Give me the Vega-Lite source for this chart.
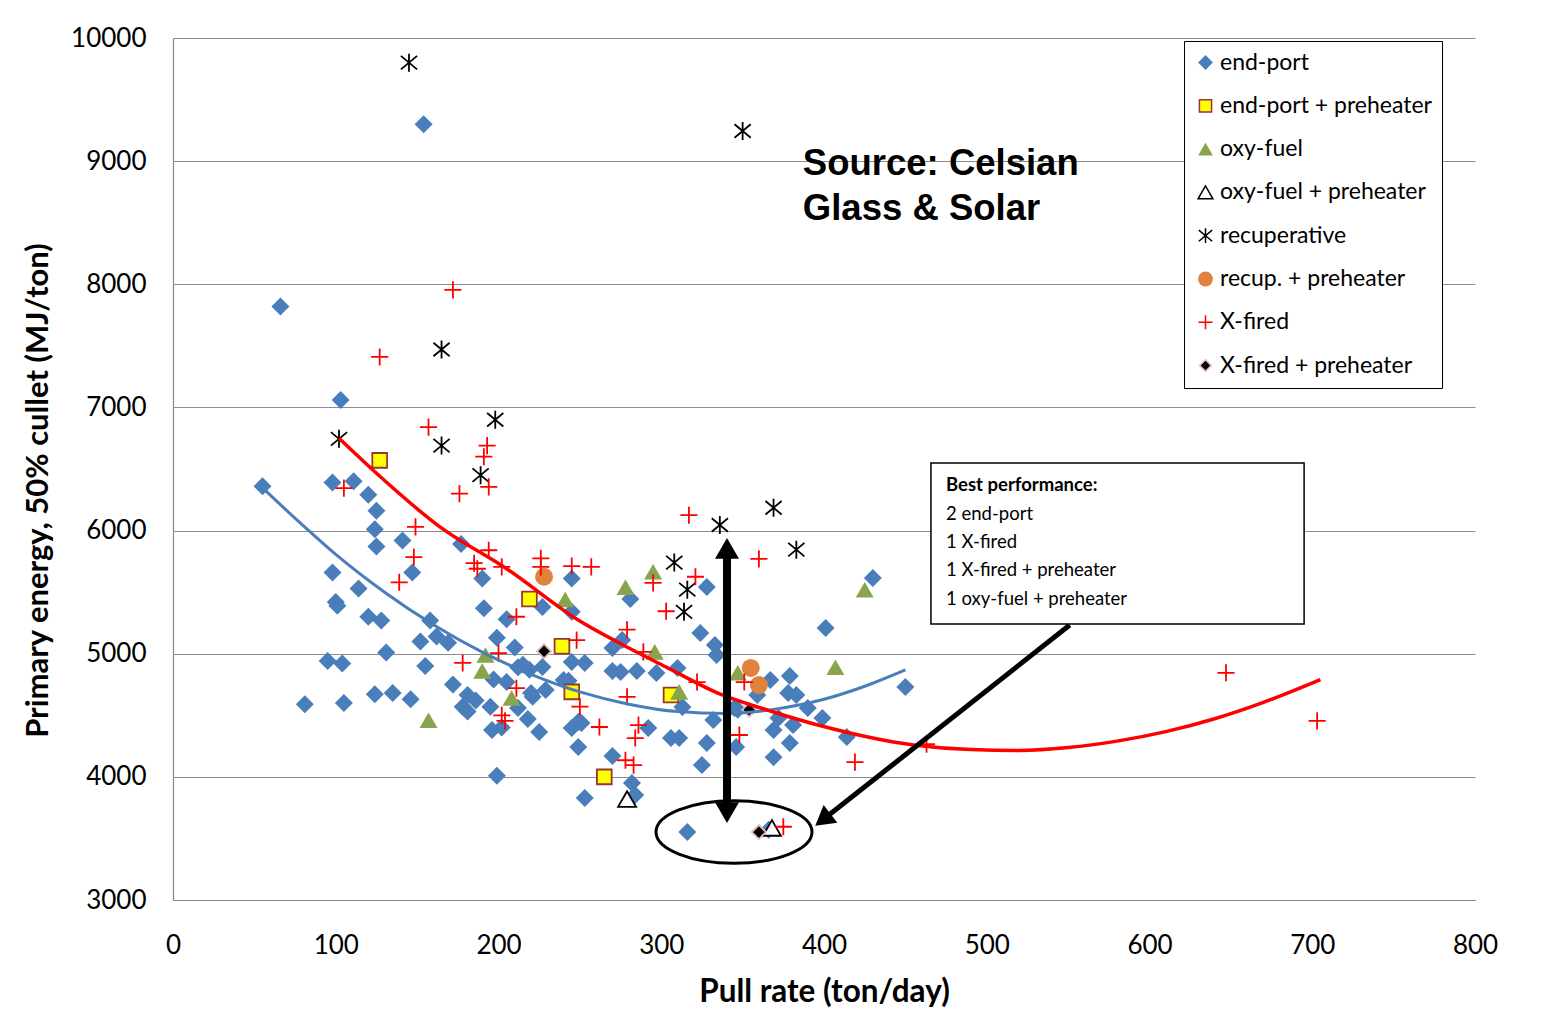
{
  "$schema": "https://vega.github.io/schema/vega-lite/v6.json",
  "autosize": {"type": "none"},
  "padding": {"left": 173, "top": 38, "right": 70, "bottom": 114},
  "width": 1302,
  "height": 862,
  "background": "white",
  "config": {
    "view": {"stroke": null},
    "font": "Lato",
    "axis": {"labelFont": "Lato", "titleFont": "Lato", "labelColor": "#000000", "titleColor": "#000000", "labelFlush": false, "labelOverlap": false}
  },
  "datasets": {
    "pts": [
      {"x":66,"y":7820,"s":"end-port"},{"x":154,"y":9300,"s":"end-port"},{"x":103,"y":7060,"s":"end-port"},{"x":55,"y":6360,"s":"end-port"},{"x":98,"y":6390,"s":"end-port"},{"x":111,"y":6400,"s":"end-port"},{"x":120,"y":6290,"s":"end-port"},{"x":125,"y":6160,"s":"end-port"},{"x":124,"y":6010,"s":"end-port"},{"x":125,"y":5870,"s":"end-port"},{"x":141,"y":5920,"s":"end-port"},{"x":98,"y":5660,"s":"end-port"},{"x":114,"y":5530,"s":"end-port"},{"x":100,"y":5420,"s":"end-port"},{"x":101,"y":5390,"s":"end-port"},{"x":147,"y":5660,"s":"end-port"},{"x":120,"y":5300,"s":"end-port"},{"x":128,"y":5270,"s":"end-port"},{"x":158,"y":5270,"s":"end-port"},{"x":152,"y":5100,"s":"end-port"},{"x":131,"y":5010,"s":"end-port"},{"x":95,"y":4940,"s":"end-port"},{"x":104,"y":4920,"s":"end-port"},{"x":155,"y":4900,"s":"end-port"},{"x":81,"y":4590,"s":"end-port"},{"x":105,"y":4600,"s":"end-port"},{"x":124,"y":4670,"s":"end-port"},{"x":135,"y":4680,"s":"end-port"},{"x":146,"y":4630,"s":"end-port"},{"x":162,"y":5140,"s":"end-port"},
      {"x":177,"y":5890,"s":"end-port"},{"x":190,"y":5610,"s":"end-port"},{"x":191,"y":5370,"s":"end-port"},{"x":205,"y":5280,"s":"end-port"},{"x":169,"y":5090,"s":"end-port"},{"x":199,"y":5130,"s":"end-port"},{"x":210,"y":5050,"s":"end-port"},{"x":172,"y":4750,"s":"end-port"},{"x":181,"y":4665,"s":"end-port"},{"x":178,"y":4570,"s":"end-port"},{"x":181,"y":4530,"s":"end-port"},{"x":195,"y":4570,"s":"end-port"},{"x":196,"y":4380,"s":"end-port"},{"x":202,"y":4400,"s":"end-port"},{"x":199,"y":4010,"s":"end-port"},{"x":197,"y":4790,"s":"end-port"},{"x":205,"y":4770,"s":"end-port"},{"x":212,"y":4890,"s":"end-port"},{"x":219,"y":4870,"s":"end-port"},{"x":221,"y":4650,"s":"end-port"},{"x":212,"y":4560,"s":"end-port"},{"x":218,"y":4470,"s":"end-port"},{"x":225,"y":4365,"s":"end-port"},{"x":215,"y":4910,"s":"end-port"},{"x":220,"y":4680,"s":"end-port"},{"x":229,"y":4705,"s":"end-port"},{"x":227,"y":4893,"s":"end-port"},{"x":227,"y":5380,"s":"end-port"},{"x":186,"y":4620,"s":"end-port"},
      {"x":245,"y":5610,"s":"end-port"},{"x":245,"y":5340,"s":"end-port"},{"x":240,"y":4787,"s":"end-port"},{"x":245,"y":4933,"s":"end-port"},{"x":253,"y":4925,"s":"end-port"},{"x":249,"y":4446,"s":"end-port"},{"x":245,"y":4397,"s":"end-port"},{"x":249,"y":4243,"s":"end-port"},{"x":270,"y":4170,"s":"end-port"},{"x":270,"y":4860,"s":"end-port"},{"x":275,"y":4852,"s":"end-port"},{"x":285,"y":4860,"s":"end-port"},{"x":297,"y":4843,"s":"end-port"},{"x":270,"y":5046,"s":"end-port"},{"x":276,"y":5111,"s":"end-port"},{"x":281,"y":5444,"s":"end-port"},{"x":292,"y":4397,"s":"end-port"},{"x":282,"y":3950,"s":"end-port"},{"x":284,"y":3853,"s":"end-port"},{"x":253,"y":3828,"s":"end-port"},{"x":243,"y":4780,"s":"end-port"},{"x":251,"y":4437,"s":"end-port"},
      {"x":310,"y":4884,"s":"end-port"},{"x":306,"y":4315,"s":"end-port"},{"x":311,"y":4315,"s":"end-port"},{"x":328,"y":4275,"s":"end-port"},{"x":325,"y":4096,"s":"end-port"},{"x":332,"y":4462,"s":"end-port"},{"x":313,"y":4567,"s":"end-port"},{"x":316,"y":3552,"s":"end-port"},{"x":324,"y":5168,"s":"end-port"},{"x":333,"y":5070,"s":"end-port"},{"x":334,"y":4990,"s":"end-port"},{"x":328,"y":5542,"s":"end-port"},{"x":346,"y":4243,"s":"end-port"},{"x":347,"y":4545,"s":"end-port"},{"x":359,"y":4665,"s":"end-port"},{"x":367,"y":4787,"s":"end-port"},{"x":369,"y":4380,"s":"end-port"},{"x":369,"y":4160,"s":"end-port"},{"x":379,"y":4820,"s":"end-port"},{"x":378,"y":4681,"s":"end-port"},{"x":383,"y":4665,"s":"end-port"},{"x":390,"y":4560,"s":"end-port"},{"x":399,"y":4478,"s":"end-port"},{"x":345,"y":4560,"s":"end-port"},{"x":372,"y":4478,"s":"end-port"},{"x":381,"y":4421,"s":"end-port"},{"x":414,"y":4324,"s":"end-port"},{"x":379,"y":4275,"s":"end-port"},{"x":401,"y":5209,"s":"end-port"},{"x":430,"y":5615,"s":"end-port"},{"x":450,"y":4730,"s":"end-port"},{"x":366,"y":3570,"s":"end-port"},
      {"x":127,"y":6570,"s":"end-port + preheater"},{"x":219,"y":5444,"s":"end-port + preheater"},{"x":239,"y":5060,"s":"end-port + preheater"},{"x":245,"y":4690,"s":"end-port + preheater"},{"x":265,"y":4000,"s":"end-port + preheater"},{"x":306,"y":4665,"s":"end-port + preheater"},
      {"x":157,"y":4460,"s":"oxy-fuel"},{"x":192,"y":4990,"s":"oxy-fuel"},{"x":190,"y":4860,"s":"oxy-fuel"},{"x":208,"y":4640,"s":"oxy-fuel"},{"x":241,"y":5440,"s":"oxy-fuel"},{"x":278,"y":5540,"s":"oxy-fuel"},{"x":295,"y":5665,"s":"oxy-fuel"},{"x":296,"y":5015,"s":"oxy-fuel"},{"x":311,"y":4690,"s":"oxy-fuel"},{"x":347,"y":4845,"s":"oxy-fuel"},{"x":407,"y":4890,"s":"oxy-fuel"},{"x":425,"y":5520,"s":"oxy-fuel"},
      {"x":279,"y":3820,"s":"oxy-fuel + preheater"},{"x":368,"y":3585,"s":"oxy-fuel + preheater"},
      {"x":145,"y":9800,"s":"recuperative"},{"x":350,"y":9245,"s":"recuperative"},{"x":165,"y":7470,"s":"recuperative"},{"x":198,"y":6900,"s":"recuperative"},{"x":102,"y":6745,"s":"recuperative"},{"x":165,"y":6690,"s":"recuperative"},{"x":189,"y":6450,"s":"recuperative"},{"x":336,"y":6045,"s":"recuperative"},{"x":369,"y":6185,"s":"recuperative"},{"x":383,"y":5845,"s":"recuperative"},{"x":308,"y":5740,"s":"recuperative"},{"x":316,"y":5520,"s":"recuperative"},{"x":314,"y":5340,"s":"recuperative"},
      {"x":228,"y":5625,"s":"recup. + preheater"},{"x":355,"y":4885,"s":"recup. + preheater"},{"x":360,"y":4745,"s":"recup. + preheater"},
      {"x":172,"y":7955,"s":"X-fired"},{"x":127,"y":7410,"s":"X-fired"},{"x":157,"y":6840,"s":"X-fired"},{"x":193,"y":6690,"s":"X-fired"},{"x":191,"y":6600,"s":"X-fired"},{"x":105,"y":6345,"s":"X-fired"},{"x":176,"y":6300,"s":"X-fired"},{"x":194,"y":6355,"s":"X-fired"},{"x":149,"y":6030,"s":"X-fired"},{"x":148,"y":5785,"s":"X-fired"},{"x":139,"y":5580,"s":"X-fired"},{"x":194,"y":5840,"s":"X-fired"},{"x":185,"y":5735,"s":"X-fired"},{"x":187,"y":5690,"s":"X-fired"},{"x":202,"y":5705,"s":"X-fired"},{"x":211,"y":5300,"s":"X-fired"},{"x":200,"y":5005,"s":"X-fired"},{"x":178,"y":4925,"s":"X-fired"},{"x":211,"y":4720,"s":"X-fired"},{"x":202,"y":4500,"s":"X-fired"},{"x":204,"y":4455,"s":"X-fired"},{"x":226,"y":5705,"s":"X-fired"},{"x":226,"y":5775,"s":"X-fired"},{"x":245,"y":5712,"s":"X-fired"},{"x":257,"y":5705,"s":"X-fired"},{"x":248,"y":5110,"s":"X-fired"},{"x":279,"y":5195,"s":"X-fired"},{"x":279,"y":4650,"s":"X-fired"},{"x":317,"y":6125,"s":"X-fired"},{"x":360,"y":5770,"s":"X-fired"},{"x":295,"y":5575,"s":"X-fired"},{"x":321,"y":5625,"s":"X-fired"},{"x":303,"y":5345,"s":"X-fired"},{"x":289,"y":5015,"s":"X-fired"},{"x":322,"y":4770,"s":"X-fired"},{"x":351,"y":4770,"s":"X-fired"},{"x":262,"y":4405,"s":"X-fired"},{"x":286,"y":4420,"s":"X-fired"},{"x":284,"y":4315,"s":"X-fired"},{"x":278,"y":4135,"s":"X-fired"},{"x":283,"y":4095,"s":"X-fired"},{"x":348,"y":4340,"s":"X-fired"},{"x":250,"y":4570,"s":"X-fired"},{"x":375,"y":3595,"s":"X-fired"},{"x":419,"y":4120,"s":"X-fired"},{"x":463,"y":4265,"s":"X-fired"},{"x":647,"y":4845,"s":"X-fired"},{"x":703,"y":4455,"s":"X-fired"},
      {"x":228,"y":5020,"s":"X-fired + preheater"},{"x":360,"y":3552,"s":"X-fired + preheater"},{"x":354,"y":4545,"s":"X-fired + preheater"}
    ],
    "blueFit": [
      {"x":55,"y":6346},{"x":80,"y":6040},{"x":100,"y":5806},{"x":130,"y":5499},{"x":160,"y":5235},{"x":190,"y":5013},{"x":220,"y":4833},{"x":250,"y":4690},{"x":280,"y":4590},{"x":310,"y":4530},{"x":340,"y":4515},{"x":370,"y":4550},{"x":400,"y":4630},{"x":430,"y":4760},{"x":450,"y":4868}
    ],
    "redFit": [
      {"x":102,"y":6750},{"x":123,"y":6490},{"x":164,"y":6030},{"x":205,"y":5690},{"x":250,"y":5265},{"x":281,"y":5040},{"x":303,"y":4892},{"x":336,"y":4673},{"x":367,"y":4535},{"x":398,"y":4415},{"x":455,"y":4259},{"x":490,"y":4222},{"x":520,"y":4215},{"x":550,"y":4238},{"x":580,"y":4290},{"x":610,"y":4367},{"x":640,"y":4472},{"x":670,"y":4605},{"x":705,"y":4790}
    ]
  },
  "encoding": {
    "x": {"field": "x", "type": "quantitative",
      "scale": {"domain": [0, 800], "nice": false, "zero": false},
      "axis": {"values": [0,100,200,300,400,500,600,700,800], "grid": false, "title": "Pull rate (ton/day)",
        "labelFontSize": 26, "labelPadding": 32, "ticks": false, "domainColor": "#868686", "domainWidth": 1.2,
        "titleFontSize": 31.5, "titleFontWeight": "bold", "titleBaseline": "middle", "titleY": 92}},
    "y": {"field": "y", "type": "quantitative",
      "scale": {"domain": [3000, 10000], "nice": false, "zero": false},
      "axis": {"values": [3000,4000,5000,6000,7000,8000,9000,10000], "grid": true, "gridColor": "#8C8C8C", "gridWidth": 1.2,
        "title": "Primary energy, 50% cullet (MJ/ton)", "format": "d",
        "labelFontSize": 26, "labelPadding": 27, "ticks": false, "domainColor": "#868686", "domainWidth": 1.2,
        "titleFontSize": 31, "titleFontWeight": "bold", "titleBaseline": "middle", "titleX": -135, "titleY": 452}}
  },
  "layer": [
    {
      "data": {"name": "pts"},
      "mark": {"type": "point", "size": 324, "strokeWidth": 1.8, "opacity": 1},
      "encoding": {
        "shape": {"field": "s", "type": "nominal",
          "scale": {"domain": ["end-port","end-port + preheater","oxy-fuel","oxy-fuel + preheater","recuperative","recup. + preheater","X-fired","X-fired + preheater"],
            "range": ["diamond","M-0.82,-0.82L0.82,-0.82L0.82,0.82L-0.82,0.82Z","triangle-up","triangle-up","M0,-1L0,1M-0.9,-0.75L0.9,0.75M-0.9,0.75L0.9,-0.75","circle","M-0.95,0L0.95,0M0,-0.95L0,0.95","M0,-0.78L0.78,0L0,0.78L-0.78,0Z"]},
          "legend": {"title": null, "orient": "none", "legendX": 1011, "legendY": 3,
            "strokeColor": "#000000", "fillColor": "#FFFFFF", "padding": 10,
            "labelFont": "Lato", "labelFontSize": 23, "labelColor": "#000000", "labelOffset": 3, "labelLimit": 400,
            "rowPadding": 19.3, "symbolSize": 220, "symbolStrokeWidth": 1.5, "symbolOpacity": 1}},
        "fill": {"field": "s", "type": "nominal",
          "scale": {"domain": ["end-port","end-port + preheater","oxy-fuel","oxy-fuel + preheater","recuperative","recup. + preheater","X-fired","X-fired + preheater"],
            "range": ["#4A7EBB","#FFFF00","#88A44D","#FFFFFF","transparent","#E0823D","transparent","#000000"]}},
        "stroke": {"field": "s", "type": "nominal",
          "scale": {"domain": ["end-port","end-port + preheater","oxy-fuel","oxy-fuel + preheater","recuperative","recup. + preheater","X-fired","X-fired + preheater"],
            "range": ["transparent","#953735","transparent","#000000","#000000","transparent","#FF0000","#E6B9B8"]}}
      }
    },
    {
      "data": {"name": "blueFit"},
      "mark": {"type": "line", "color": "#4A7EBB", "strokeWidth": 3, "interpolate": "monotone"},
      "encoding": {}
    },
    {
      "data": {"name": "redFit"},
      "mark": {"type": "line", "color": "#FF0000", "strokeWidth": 3.5, "interpolate": "monotone"},
      "encoding": {}
    },
    {
      "data": {"values": [{"x": 340.4, "y": 5858, "x2": 340.4, "y2": 3715}]},
      "mark": {"type": "rule", "color": "#000000", "strokeWidth": 8},
      "encoding": {"x2": {"field": "x2"}, "y2": {"field": "y2"}}
    },
    {
      "data": {"values": [{"x": 551, "y": 5233, "x2": 399.3, "y2": 3651}]},
      "mark": {"type": "rule", "color": "#000000", "strokeWidth": 5},
      "encoding": {"x2": {"field": "x2"}, "y2": {"field": "y2"}}
    },
    {
      "data": {"values": [{"x": 340.4, "y": 5855}]},
      "mark": {"type": "point", "shape": "triangle-up", "size": 576, "filled": true, "color": "#000000", "opacity": 1}
    },
    {
      "data": {"values": [{"x": 340.4, "y": 3710}]},
      "mark": {"type": "point", "shape": "triangle-up", "angle": 180, "size": 576, "filled": true, "color": "#000000", "opacity": 1}
    },
    {
      "data": {"values": [{"x": 399.3, "y": 3651}]},
      "mark": {"type": "point", "shape": "triangle-up", "angle": 232, "size": 500, "filled": true, "color": "#000000", "opacity": 1}
    },
    {
      "data": {"values": [{"x": 344.7, "y": 3552}]},
      "mark": {"type": "point", "shape": "M-1,0C-1,-0.2209,-0.5523,-0.4,0,-0.4C0.5523,-0.4,1,-0.2209,1,0C1,0.2209,0.5523,0.4,0,0.4C-0.5523,0.4,-1,0.2209,-1,0Z",
        "size": 24336, "filled": false, "fill": "transparent", "stroke": "#000000", "strokeWidth": 3, "opacity": 1}
    },
    {
      "data": {"values": [{"x": 465.7, "y": 6549, "x2": 695, "y2": 5241}]},
      "mark": {"type": "rect", "fill": "#FFFFFF", "stroke": "#000000", "strokeWidth": 1.5},
      "encoding": {"x2": {"field": "x2"}, "y2": {"field": "y2"}}
    },
    {
      "data": {"values": [{"x": 475, "y": 6370, "t": "Best performance:"}]},
      "mark": {"type": "text", "align": "left", "baseline": "middle", "font": "Lato", "fontSize": 18.5, "fontWeight": "bold", "color": "#000000"},
      "encoding": {"text": {"field": "t"}}
    },
    {
      "data": {"values": [{"x": 475, "y": 6135, "t": "2 end-port"}, {"x": 475, "y": 5907, "t": "1 X-fired"}, {"x": 475, "y": 5680, "t": "1 X-fired + preheater"}, {"x": 475, "y": 5444, "t": "1 oxy-fuel + preheater"}]},
      "mark": {"type": "text", "align": "left", "baseline": "middle", "font": "Lato", "fontSize": 18.5, "color": "#000000"},
      "encoding": {"text": {"field": "t"}}
    },
    {
      "data": {"values": [{"x": 387, "y": 8887, "t": "Source: Celsian"}, {"x": 387, "y": 8522, "t": "Glass & Solar"}]},
      "mark": {"type": "text", "align": "left", "baseline": "alphabetic", "font": "Liberation Sans", "fontSize": 36.5, "fontWeight": "bold", "color": "#000000"},
      "encoding": {"text": {"field": "t"}}
    }
  ]
}
